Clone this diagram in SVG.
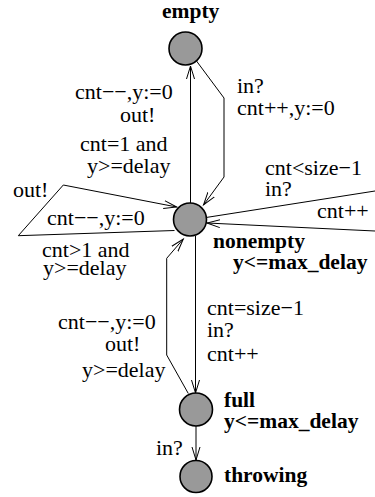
<svg xmlns="http://www.w3.org/2000/svg" width="375" height="497" viewBox="0 0 375 497">
<style>
.loc{fill:#999;stroke:#000;stroke-width:1.6}
.e{fill:none;stroke:#000;stroke-width:1}
.t{font-family:"Liberation Serif","Times New Roman",serif;font-size:22px;fill:#000}
.b{font-family:"Liberation Serif","Times New Roman",serif;font-size:21.5px;font-weight:bold;fill:#000}
</style>
<defs>
<marker id="arr" markerUnits="userSpaceOnUse" markerWidth="16" markerHeight="12" refX="13" refY="5" orient="auto">
<path d="M0,1 L13,5 L0,9" fill="none" stroke="#000" stroke-width="1"/>
</marker>
</defs>
<g id="connectors">
<path class="e" d="M190.5,203 L190.5,66" marker-end="url(#arr)"/>
<path class="e" d="M196.5,61 L224,98 L224,177 L203.5,205" marker-end="url(#arr)"/>
<path class="e" d="M206,217.5 L375,191"/>
<path class="e" d="M375,231 L207,223" marker-end="url(#arr)"/>
<path class="e" d="M174.5,230.5 L18.3,235.7 L63.3,185 L176.7,207" marker-end="url(#arr)"/>
<path class="e" d="M195.5,236 L195.5,393" marker-end="url(#arr)"/>
<path class="e" d="M188.3,393.5 L166.7,355 L166.7,258.3 L183.3,239" marker-end="url(#arr)"/>
<path class="e" d="M196,426 L196,460" marker-end="url(#arr)"/>
<text class="t" x="75" y="99">cnt−−,y:=0</text>
<text class="t" x="120" y="121.5">out!</text>
<text class="t" x="80" y="150.5">cnt=1 and</text>
<text class="t" x="87" y="173">y&gt;=delay</text>
<text class="t" x="237" y="93">in?</text>
<text class="t" x="237" y="115">cnt++,y:=0</text>
<text class="t" x="265" y="175">cnt&lt;size−1</text>
<text class="t" x="265" y="196">in?</text>
<text class="t" x="317" y="218">cnt++</text>
<text class="t" x="13" y="196.5">out!</text>
<text class="t" x="47" y="225">cnt−−,y:=0</text>
<text class="t" x="42" y="257">cnt&gt;1 and</text>
<text class="t" x="43" y="275">y&gt;=delay</text>
<text class="t" x="58" y="329">cnt−−,y:=0</text>
<text class="t" x="105" y="351">out!</text>
<text class="t" x="82" y="377">y&gt;=delay</text>
<text class="t" x="207" y="315">cnt=size−1</text>
<text class="t" x="207" y="337">in?</text>
<text class="t" x="207" y="361">cnt++</text>
<text class="t" x="156" y="455">in?</text>
</g>
<g id="empty">
<circle class="loc" cx="185.5" cy="48.5" r="16.5"/>
<text class="b" x="162" y="18">empty</text>
</g>
<g id="nonempty">
<circle class="loc" cx="190" cy="219.5" r="16.5"/>
<text class="b" x="213" y="248">nonempty</text>
<text class="b" x="233" y="269">y&lt;=max_delay</text>
</g>
<g id="full">
<circle class="loc" cx="196" cy="409.5" r="16.5"/>
<text class="b" x="224" y="407">full</text>
<text class="b" x="224" y="428">y&lt;=max_delay</text>
</g>
<g id="throwing">
<circle class="loc" cx="196" cy="476.5" r="16"/>
<text class="b" x="224" y="482">throwing</text>
</g>
</svg>
